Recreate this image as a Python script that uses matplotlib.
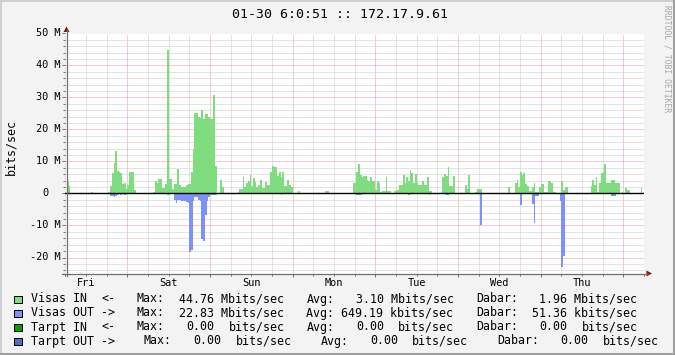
import re
import numpy as np
import matplotlib
matplotlib.use("Agg")
import matplotlib.pyplot as plt
from matplotlib.patches import Rectangle, Polygon
from matplotlib.lines import Line2D

# ---------------- data: Mbit/s, half-hour samples, one week starting Fri 06:30 ----------------
in_d1 = [3.9, 2.2, 0, 0, 0, 0, 0, 0, 0, 0, 0, 0, 0, 0, 0.6, 0, 0, 0, 0, 0, 0, 0, 0, 0,
         0.5, 2.2, 6.3, 9.5, 13.4, 6.9, 6.7, 6.5, 3.0, 3.2, 1.5, 2.7, 6.6, 6.6, 6.6, 1.0,
         0, 0, 0, 0, 0, 0, 0, 0]
in_d2 = [0, 0, 0.4, 3.9, 3.2, 4.5, 4.6, 1.8, 1.8, 3.1, 44.76, 4.4, 4.4, 1.5, 2.9, 2.9,
         7.7, 2.7, 2.1, 2.1, 2.1, 2.5, 3.1, 3.1, 6.7, 14.0, 25.3, 25.3, 24.0, 23.7, 26.2, 23.4,
         24.7, 24.7, 24.0, 23.4, 23.4, 30.7, 8.7, 0, 0, 4.1, 2.1, 0, 0, 0, 0, 0]
in_d3 = [0, 0, 0, 0.6, 1.5, 1.5, 5.0, 2.0, 3.4, 3.9, 5.9, 2.2, 4.9, 3.5, 2.0, 2.8,
         4.3, 1.6, 1.6, 3.6, 2.8, 2.8, 6.8, 8.6, 8.4, 8.2, 5.5, 6.6, 5.3, 6.6, 2.2, 2.2,
         4.3, 2.8, 2.0, 0, 0, 0.3, 0.9, 0, 0, 0, 0, 0, 0, 0, 0.3, 0]
in_d4 = [0.3, 0.3, 0, 0, 0, 0, 0.9, 0.9, 0, 0, 0, 0, 0, 0, 0, 0, 0, 0, 0, 0, 0, 0,
         3.2, 3.2, 6.8, 9.1, 5.9, 5.1, 5.5, 5.5, 4.1, 3.9, 5.3, 3.9, 3.9, 1.1, 3.9, 3.2,
         0.4, 0.9, 0.9, 5.3, 0.7, 0.7, 0, 0, 0.9, 1.1]
in_d5 = [1.1, 2.8, 2.8, 5.7, 3.4, 5.3, 3.9, 7.4, 6.4, 3.2, 6.1, 3.2, 2.8, 2.8, 3.9, 2.6,
         2.6, 5.3, 0.9, 0.9, 0, 0, 0, 0, 0, 0.5, 5.1, 6.1, 5.5, 8.2, 2.2, 2.4,
         5.5, 0, 0, 0, 0, 0, 0.3, 2.6, 1.4, 5.7, 0.3, 0, 0, 0.4, 1.4, 1.4]
in_d6 = [1.4, 0, 0, 0, 0, 0, 0, 0, 0, 0, 0, 0, 0, 0, 0.3, 0, 2.0, 0.3, 0, 0, 3.4, 4.1,
         2.0, 6.8, 5.7, 6.4, 3.0, 2.2, 0.9, 0.9, 2.0, 3.4, 0.5, 0.5, 2.0, 3.0, 3.0, 0.5,
         0.5, 3.9, 3.9, 3.2, 0.5, 0.5, 0, 0, 0.3, 3.9]
in_d7 = [1.1, 2.0, 2.0, 0.3, 0.3, 0, 0, 0, 0, 0, 0, 0, 0, 0, 0, 0, 2.2, 4.1, 2.8, 5.3,
         0.5, 3.4, 6.4, 6.8, 9.1, 3.2, 3.2, 3.4, 4.1, 4.1, 3.4, 3.4, 3.4, 0, 0.5, 0,
         1.6, 1.1, 1.1, 0, 0, 0, 0, 0, 0, 1.8, 0, 0]

out_d1 = [0] * 25 + [0.9, 0.9, 1.1, 0.9, 0.5, 0.3, 0.5, 0, 0.5] + [0] * 14
out_d2 = [0] * 10 + [0.5, 0, 0, 0, 1.9, 3.0, 2.0, 2.0, 2.5, 2.5, 2.5, 2.8, 3.0, 18.3, 17.8,
          2.5, 1.2, 1.2, 2.0, 2.5, 14.2, 14.8, 6.8, 2.5, 1.0, 0.4, 0.4, 0.4, 0.4] + [0] * 9
out_d3 = [0] * 13 + [0.3] + [0] * 14 + [0.4] + [0] * 19
out_d4 = [0] * 22 + [0.3, 0, 0.4, 0.4, 0.4] + [0] * 21
out_d5 = [0] * 6 + [0.4] + [0] * 11 + [0.4] + [0] * 9 + [0.5, 0.5] + [0] * 18
out_d6 = [9.7] + [0] * 22 + [3.5] + [0] * 6 + [3.4, 9.3, 0.7, 0.7] + [0] * 12 + [2.4, 22.83]
out_d7 = [19.5] + [0] * 27 + [0.7, 0.7, 0.7, 0, 0.3] + [0] * 15

days = ["Fri", "Sat", "Sun", "Mon", "Tue", "Wed", "Thu"]
y_ticks = [-20, -10, 0, 10, 20, 30, 40, 50]
title = "01-30 6:0:51 :: 172.17.9.61"
legend_names = ["Visas IN  <-", "Visas OUT ->", "Tarpt IN  <-", "Tarpt OUT ->"]
legend_stats = [
    "   Max:  44.76 Mbits/sec   Avg:   3.10 Mbits/sec   Dabar:   1.96 Mbits/sec",
    "   Max:  22.83 Mbits/sec   Avg: 649.19 kbits/sec   Dabar:  51.36 kbits/sec",
    "   Max:   0.00  bits/sec   Avg:   0.00  bits/sec   Dabar:   0.00  bits/sec",
    "    Max:   0.00  bits/sec    Avg:   0.00  bits/sec    Dabar:   0.00  bits/sec",
]
legend_colors = ["#7FDD7F", "#8090FA", "#00A000", "#5070C4"]

# ---------------- figure ----------------
W, H = 675, 355
MONO = "DejaVu Sans Mono"
fig = plt.figure(figsize=(W / 100, H / 100), dpi=100)
fig.patch.set_facecolor("#F3F3F3")


def fx(x):
    return x / W


def fy(y):
    return 1 - y / H


PL, PR, PT, PB = 65.3, 644.0, 33.5, 273.5
ax = fig.add_axes([fx(PL), fy(PB), (PR - PL) / W, (PB - PT) / H])
ax.set_facecolor("white")
ax.set_xlim(0, 168)
ax.set_ylim(-25, 50)
for s in ax.spines.values():
    s.set_visible(False)

in_vals = np.concatenate([in_d1, in_d2, in_d3, in_d4, in_d5, in_d6, in_d7])
out_vals = np.concatenate([out_d1, out_d2, out_d3, out_d4, out_d5, out_d6, out_d7])
edges = 0.5 + 0.5 * np.arange(len(in_vals) + 1)
ax.stairs(in_vals, edges, baseline=0, fill=True, facecolor=legend_colors[0],
          edgecolor="none", lw=0, zorder=2)
ax.stairs(-out_vals, edges, baseline=0, fill=True, facecolor=legend_colors[1],
          edgecolor="none", lw=0, zorder=2)

# grid (under the data)
ax.set_axisbelow(True)
ax.set_xticks(np.arange(18, 168, 24))
ax.set_xticks(np.arange(0, 169, 6), minor=True)
ax.set_yticks(y_ticks)
ax.set_yticks(np.arange(-24, 51, 2), minor=True)
dot = (0, (1, 1))
ax.grid(which="minor", color="#C8C8C8", lw=0.72, ls=dot)
ax.grid(which="major", color="#E59A9A", lw=0.72, ls=dot)
ax.tick_params(which="both", labelleft=False, labelbottom=False, color="#707070",
               width=0.72, direction="out")
ax.tick_params(which="minor", length=1.5)
ax.tick_params(which="major", length=2.2)
ax.axhline(0, color="black", lw=1.0, zorder=4)

# axes lines + arrows (figure pixel coords)
AX_C = "#707070"
ARROW_C = "#8B1010"
fig.add_artist(Line2D([fx(66.5), fx(66.5)], [fy(276), fy(30)], color=AX_C, lw=0.9))
fig.add_artist(Line2D([fx(62), fx(648)], [fy(273.5), fy(273.5)], color=AX_C, lw=0.9))
fig.add_artist(Polygon([(fx(63.5), fy(32)), (fx(69.5), fy(32)), (fx(66.5), fy(26.5))],
                       closed=True, transform=fig.transFigure, color=ARROW_C, lw=0))
fig.add_artist(Polygon([(fx(646.5), fy(270.5)), (fx(646.5), fy(276.5)), (fx(652), fy(273.5))],
                       closed=True, transform=fig.transFigure, color=ARROW_C, lw=0))

# y tick labels
char_pt = 0.602 * 7.4
for v in y_ticks:
    lab = f"{v} M" if v != 0 else "0"
    off = -3.3 if v != 0 else -3.3 - 2 * char_pt
    ax.annotate(lab, xy=(0, v), xycoords=("axes fraction", "data"), xytext=(off, 0),
                textcoords="offset points", ha="right", va="center", fontsize=7.4,
                family=MONO, annotation_clip=False)

# day labels at noon
for k, d in enumerate(days):
    ax.annotate(d, xy=(6 + 24 * k, 0), xycoords=("data", "axes fraction"),
                xytext=(0, -6.6), textcoords="offset points", ha="center", va="center",
                fontsize=7.4, family=MONO, annotation_clip=False)

# title, axis label, watermark
fig.text(fx(340.5), fy(14), title, ha="center", va="center", fontsize=9.5, family=MONO)
fig.text(fx(10.5), fy(147), "bits/sec", rotation=90, ha="center", va="center",
         fontsize=8.4, family=MONO)
fig.text(fx(667), fy(5), "RRDTOOL / TOBI OETIKER", rotation=270, ha="center", va="top",
         fontsize=5.8, family=MONO, color="#A6A6A6")

# legend: monospace columns, each word placed on a 7.06 px character grid
CHAR_PX = 7.06
for r, (name, stats, col) in enumerate(zip(legend_names, legend_stats, legend_colors)):
    yc = 299 + 14 * r
    fig.add_artist(Rectangle((fx(14.5), fy(yc + 3.5)), 7 / W, 7 / H, transform=fig.transFigure,
                             facecolor=col, edgecolor="black", lw=0.72))
    line = name + stats
    for m in re.finditer(r"\S+(?: \S+)*", line):
        fig.text(fx(31 + CHAR_PX * m.start()), fy(yc), m.group(), ha="left", va="center",
                 fontsize=8.42, family=MONO)

# 3d-ish frame shade
fig.add_artist(Rectangle((0, fy(2)), 1, 2 / H, transform=fig.transFigure, color="#CFCFCF", lw=0))
fig.add_artist(Rectangle((0, 0), 2 / W, 1, transform=fig.transFigure, color="#CFCFCF", lw=0))
fig.add_artist(Rectangle((0, 0), 1, 2 / H, transform=fig.transFigure, color="#9E9E9E", lw=0))
fig.add_artist(Rectangle((fx(673), 0), 2 / W, 1, transform=fig.transFigure, color="#9E9E9E", lw=0))

fig.savefig("out.png", dpi=100, facecolor=fig.get_facecolor())
